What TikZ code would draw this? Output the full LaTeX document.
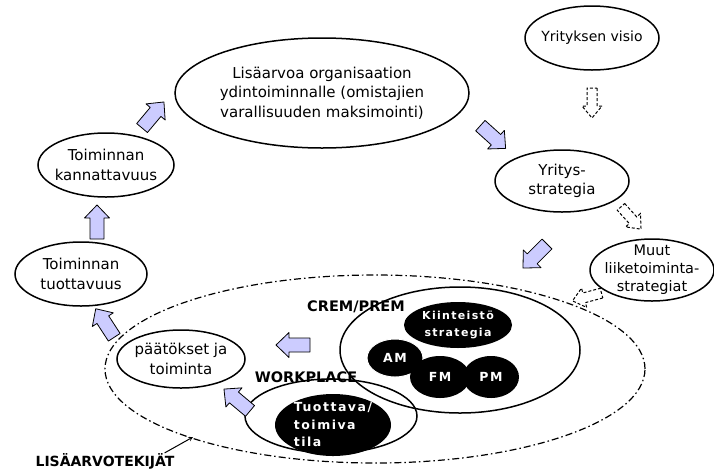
\documentclass[tikz,border=0pt]{standalone}
\usepackage{fontspec}
\setmainfont{DejaVu Sans}
\newfontfamily\widebold[LetterSpace=12]{DejaVu Sans}
\usetikzlibrary{shapes.geometric}
\definecolor{arrowfill}{RGB}{204,204,255}
\begin{document}
\begin{tikzpicture}[x=1pt,y=-1pt,
  oval/.style={ellipse, draw, line width=1.5pt, inner sep=-12pt, align=center,
    font=\fontsize{15}{19.5}\selectfont},
  darkoval/.style={ellipse, fill=black, inner sep=-12pt, text=white, align=center,
    font=\widebold\bfseries\fontsize{12.5}{17.5}\selectfont},
  tag/.style={font=\bfseries\fontsize{14.5}{14.5}\selectfont, inner sep=0pt},
  flowarrow/.pic={\draw[fill=arrowfill, line width=0.8pt, line join=round]
    (-17,-7) -- (4,-7) -- (4,-12.5) -- (17,0) -- (4,12.5) -- (4,7) -- (-17,7) -- cycle;},
  linkarrow/.pic={\draw[dash pattern=on 3pt off 2pt, line width=1pt]
    (-15,-5) -- (3,-5) -- (3,-10) -- (15,0) -- (3,10) -- (3,5) -- (-15,5) -- cycle;},
]
\useasboundingbox (0,0) rectangle (714,472);

% outer value-driver area
\node[ellipse, draw, line width=1.2pt, dash pattern=on 7pt off 3pt on 1.5pt off 3pt,
  minimum width=540pt, minimum height=188pt] (lisa) at (375,369) {};

% main ovals
\node[oval, minimum width=294pt, minimum height=110pt] (top) at (322,93)
  {Lisäarvoa organisaation\\ydintoiminnalle (omistajien\\varallisuuden maksimointi)};
\node[oval, minimum width=134pt, minimum height=64pt, font=\fontsize{14}{16}\selectfont] (visio) at (592,38) {Yrityksen visio};
\node[oval, minimum width=134pt, minimum height=62pt, font=\fontsize{15}{19}\selectfont] (strat) at (562,181) {Yritys-\\strategia};
\node[oval, minimum width=124pt, minimum height=62pt, font=\fontsize{14.5}{18}\selectfont] (muut) at (652,270) {Muut\\liiketoiminta-\\strategiat};
\node[oval, minimum width=136pt, minimum height=64pt] (kann) at (106,165) {Toiminnan\\kannattavuus};
\node[oval, minimum width=132pt, minimum height=64pt] (tuot) at (81,274) {Toiminnan\\tuottavuus};
\node[oval, minimum width=128pt, minimum height=58pt] (paat) at (181,359) {päätökset ja\\toiminta};

% CREM / PREM group
\node[ellipse, draw, line width=1.5pt, minimum width=240pt, minimum height=126pt] (crem) at (460,350) {};
\node[darkoval, minimum width=108pt, minimum height=46pt, font=\widebold\bfseries\fontsize{11}{17}\selectfont] (kiint) at (458,325) {Kiinteistö\\strategia};
\node[darkoval, minimum width=56pt, minimum height=38pt, draw=white, line width=1pt] (am) at (395,358) {AM};
\node[darkoval, minimum width=56pt, minimum height=42pt] (pm) at (491,377) {PM};
\node[darkoval, minimum width=60pt, minimum height=42pt] (fm) at (440,377) {FM};
\node[tag] (cremlab) at (356,307) {CREM/PREM};

% workplace group
\node[ellipse, draw, line width=1.5pt, minimum width=172pt, minimum height=74pt] (work) at (331,416) {};
\node[darkoval, minimum width=116pt, minimum height=62pt, align=left] (tila) at (333,425) {Tuottava/\\toimiva\\tila};
\node[tag] (worklab) at (306,377) {WORKPLACE};

% value-driver label and pointer
\node[tag, font=\bfseries\fontsize{14}{14}\selectfont] (lisalab) at (105,461) {LISÄARVOTEKIJÄT};
\coordinate (lisapt) at (193,437);
\draw[line width=1pt, -stealth] ([xshift=-10pt]lisalab.north east) -- (lisapt);

% flow arrows
\pic[rotate=50] at (153,115) {flowarrow};
\pic[rotate=-42] at (493,137) {flowarrow};
\pic[rotate=-135] at (535,256) {flowarrow};
\pic[rotate=90] at (97,222) {flowarrow};
\pic[rotate=123] at (105,323) {flowarrow};
\pic[rotate=180] at (293,345) {flowarrow};
\pic[rotate=140] at (237,400) {flowarrow};

% strategy links
\pic[rotate=-90] at (592,103) {linkarrow};
\pic[rotate=-48] at (631,218) {linkarrow};
\pic[rotate=195] at (587,297) {linkarrow};
\end{tikzpicture}
\end{document}
